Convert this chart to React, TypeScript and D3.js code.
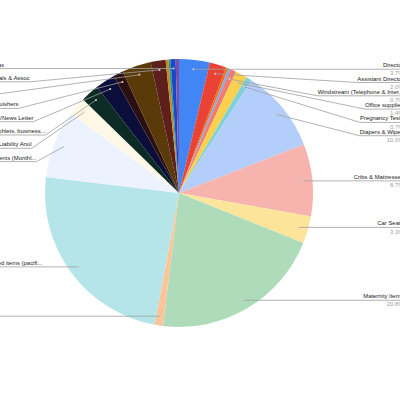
import React from "react";
import * as d3 from "d3";

// slices in drawing order, clockwise from 12 o'clock
const categories = [
  "Director",
  "Assistant Director",
  "Postage",
  "Bank Fees",
  "Windstream (Telephone & Inter...",
  "Office supplies",
  "Pregnancy Tests",
  "Diapers & Wipes",
  "Cribs & Mattresses",
  "Car Seats",
  "Maternity Items",
  "Toys",
  "Baby related items (pacifi...",
  "Special Events (Monthl...",
  "Insurance Liability Anul",
  "Print (pamphlets, business...",
  "Advertising/News Letter",
  "Fire Extinguishers",
  "Utilities",
  "Professionals & Assoc",
  "Snacks",
  "Cleaning",
  "Property Tax",
  "Gifts",
];

const values = [
  3.7, 2.0, 0.3, 0.3, 0.7, 1.4, 0.7, 10.0, 8.7, 3.3, 20.8, 1.0, 24.0, 8.2,
  2.2, 2.2, 2.4, 1.2, 3.5, 1.8, 0.35, 0.25, 0.6, 0.4,
];

const colors = [
  "#4285f4", "#ea4335", "#ff6d01", "#7baaf7", "#f07b72", "#fcd04f",
  "#7ed1d7", "#b3cefb", "#f7b4ae", "#fde49b", "#aedcba", "#ffc599",
  "#b5e5e8", "#ecf3fe", "#fff8e6", "#0c2b24", "#0b0e3a", "#2b1011",
  "#5b3a0a", "#5c1f1b", "#c98a12", "#1f95a0", "#1b47c6", "#7b4fa8",
];

const width = 400;
const height = 400;
const cx = 179;
const cy = 193;
const radius = 134;
const fontSize = 5.9;
const font = "Arial, 'Liberation Sans', sans-serif";
const rightEdge = 403.5;
const leftEdge = -28.8;
const rowGap = 13.3;
const minLabelPct = 0.5; // smaller slices get no label

let ctx: CanvasRenderingContext2D | null = null;
function textWidth(s: string) {
  if (!ctx) ctx = document.createElement("canvas").getContext("2d");
  if (!ctx) return s.length * fontSize * 0.5;
  ctx.font = `${fontSize}px 'Liberation Sans', Arial, sans-serif`;
  return ctx.measureText(s).width;
}

export default function App() {
  const pie = d3
    .pie<number>()
    .sort(null)
    .value((d) => d)
    .startAngle(0)
    .endAngle(2 * Math.PI)(values);

  const arc = d3.arc<d3.PieArcDatum<number>>().innerRadius(0).outerRadius(radius);
  const dotArc = d3
    .arc<d3.PieArcDatum<number>>()
    .innerRadius(radius * 0.93)
    .outerRadius(radius * 0.93);

  const fmt = (v: number) => `${v.toFixed(1)}%`;

  const labels = pie
    .map((p, i) => {
      const [dx, dy] = dotArc.centroid(p);
      const mid = (p.startAngle + p.endAngle) / 2;
      return { i, right: mid < Math.PI, dot: [cx + dx, cy + dy], y: cy + dy };
    })
    .filter((l) => values[l.i] >= minLabelPct);

  // push labels down so they don't collide, per side
  const place = (side: typeof labels) => {
    side.sort((a, b) => a.dot[1] - b.dot[1]);
    let prev = -Infinity;
    side.forEach((l) => {
      l.y = Math.max(l.dot[1], prev + rowGap);
      prev = l.y;
    });
    return side;
  };
  const placed = [
    ...place(labels.filter((l) => l.right)),
    ...place(labels.filter((l) => !l.right)),
  ];

  return (
    <div style={{ position: "absolute", left: 0, top: 0 }}>
      <svg width={width} height={height} style={{ display: "block", background: "#fff" }}>
        <g transform={`translate(${cx},${cy})`}>
          {pie.map((p, i) => (
            <path key={i} d={arc(p) || ""} fill={colors[i]} />
          ))}
        </g>
        {placed.map((l) => {
          const name = categories[l.i];
          const pct = fmt(values[l.i]);
          const w = Math.max(textWidth(name), textWidth(pct));
          const x0 = l.right ? rightEdge - w : leftEdge + w;
          const x1 = l.right ? rightEdge : leftEdge;
          const anchorX = l.right ? rightEdge : leftEdge;
          const anchor = l.right ? "end" : "start";
          return (
            <g key={l.i}>
              <path
                d={`M${l.dot[0]},${l.dot[1]}L${x0},${l.y}L${x1},${l.y}`}
                fill="none"
                stroke="#9e9e9e"
                strokeWidth={0.8}
              />
              <circle cx={l.dot[0]} cy={l.dot[1]} r={1} fill="#d0d0d0" />
              <text
                x={anchorX}
                y={l.y - 2}
                textAnchor={anchor}
                fontSize={fontSize}
                fontFamily={font}
                fill="#222"
              >
                {name}
              </text>
              <text
                x={anchorX}
                y={l.y + 6.2}
                textAnchor={anchor}
                fontSize={fontSize}
                fontFamily={font}
                fill="#9e9e9e"
              >
                {pct}
              </text>
            </g>
          );
        })}
      </svg>
    </div>
  );
}
